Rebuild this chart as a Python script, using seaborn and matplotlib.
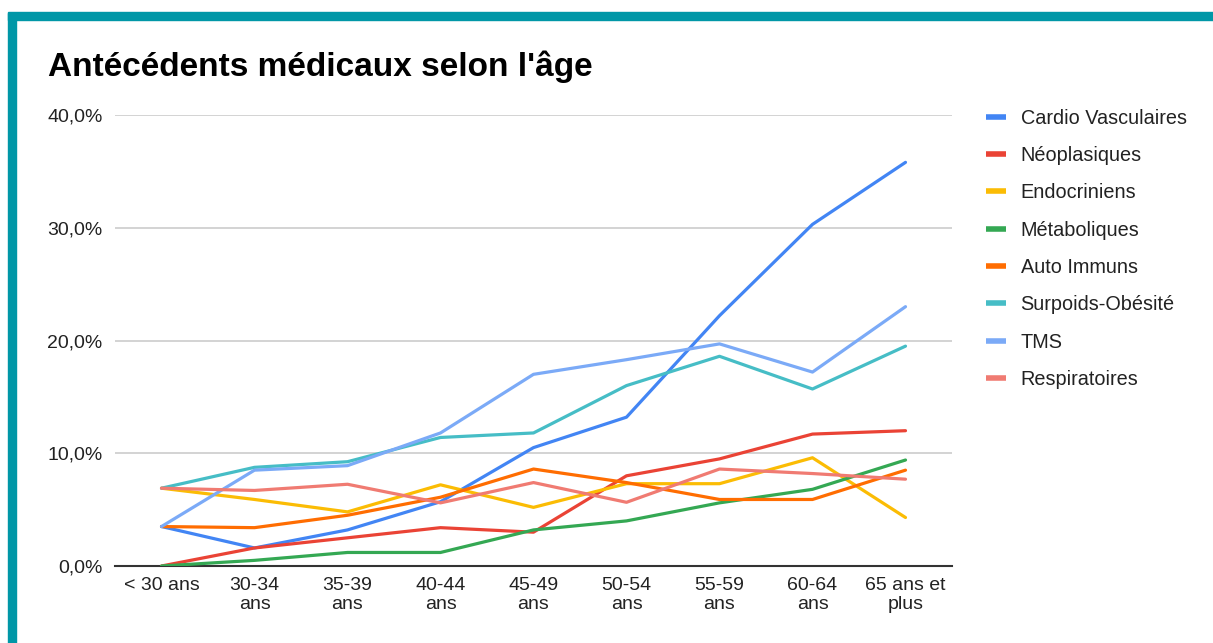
import pandas as pd
import numpy as np
import seaborn as sns
import matplotlib.pyplot as plt
from matplotlib.lines import Line2D
from matplotlib.patches import Rectangle
from matplotlib.ticker import FuncFormatter

# donnees (en %)
ages = ['< 30 ans', '30-34\nans', '35-39\nans', '40-44\nans', '45-49\nans',
        '50-54\nans', '55-59\nans', '60-64\nans', '65 ans et\nplus']

cardio = [3.5, 1.6, 3.2, 5.7, 10.5, 13.2, 22.2, 30.3, 35.8]
neoplasiques = [0.0, 1.6, 2.5, 3.4, 3.0, 8.0, 9.5, 11.7, 12.0]
endocriniens = [6.9, 5.9, 4.8, 7.2, 5.2, 7.3, 7.3, 9.6, 4.3]
metaboliques = [0.0, 0.5, 1.2, 1.2, 3.2, 4.0, 5.6, 6.8, 9.4]
auto_immuns = [3.5, 3.4, 4.5, 6.1, 8.6, 7.4, 5.9, 5.9, 8.5]
surpoids = [6.9, 8.75, 9.25, 11.4, 11.8, 16.0, 18.6, 15.7, 19.5]
tms = [3.5, 8.5, 8.9, 11.8, 17.0, 18.3, 19.7, 17.2, 23.0]
respiratoires = [6.9, 6.7, 7.25, 5.6, 7.4, 5.65, 8.6, 8.2, 7.7]

series_names = ['Cardio Vasculaires', 'Néoplasiques', 'Endocriniens', 'Métaboliques',
                'Auto Immuns', 'Surpoids-Obésité', 'TMS', 'Respiratoires']
series_values = [cardio, neoplasiques, endocriniens, metaboliques,
                 auto_immuns, surpoids, tms, respiratoires]
colors = ['#4285F4', '#EA4335', '#FBBC04', '#34A853',
          '#FF6D01', '#46BDC6', '#7BAAF7', '#F07B72']

# format long pour seaborn
rows = []
for name, vals in zip(series_names, series_values):
    for i, v in enumerate(vals):
        rows.append({'pos': i, 'valeur': v, 'type': name})
df = pd.DataFrame(rows)

sns.set_style('white')
plt.rcParams['font.family'] = ['Liberation Sans', 'DejaVu Sans']

fig = plt.figure(figsize=(12.13, 6.43), dpi=100)
ax = fig.add_axes([115 / 1213, 1 - 566 / 643, (952 - 115) / 1213, (566 - 115) / 643])

# cadre turquoise
fig.patches.append(Rectangle((8 / 1213, 0), 7.5 / 1213, 1 - 13 / 643,
                             transform=fig.transFigure, color='#0097A7', zorder=0))
fig.patches.append(Rectangle((8 / 1213, 1 - 20 / 643), 1, 7.5 / 643,
                             transform=fig.transFigure, color='#0097A7', zorder=0))

sns.lineplot(data=df, x='pos', y='valeur', hue='type', hue_order=series_names,
             palette=colors, linewidth=2.3, ax=ax, legend=False)

ax.set_xlim(-0.5, 8.5)
ax.set_ylim(0, 40)
ax.set_yticks([0, 10, 20, 30, 40])
ax.yaxis.set_major_formatter(FuncFormatter(lambda v, p: f'{v:.1f}%'.replace('.', ',')))
ax.set_xticks(range(len(ages)))
ax.set_xticklabels(ages, linespacing=1.15)
ax.tick_params(axis='both', length=0, labelsize=14, colors='#222222')
ax.tick_params(axis='y', pad=9)
ax.tick_params(axis='x', pad=8)
ax.set_xlabel('')
ax.set_ylabel('')
ax.grid(axis='y', color='#cccccc', linewidth=1.2)
ax.set_axisbelow(True)
for s in ['top', 'right', 'left']:
    ax.spines[s].set_visible(False)
ax.spines['bottom'].set_color('#333333')
ax.spines['bottom'].set_linewidth(1.5)
ax.spines['bottom'].set_zorder(1)

fig.text(48 / 1213, 1 - 67 / 643, "Antécédents médicaux selon l'âge",
         fontsize=24, fontweight='bold', color='#000000', va='center', ha='left')

handles = [Line2D([0], [0], color=c, linewidth=4, solid_capstyle='butt') for c in colors]
leg = fig.legend(handles, series_names, loc='upper left',
                 bbox_to_anchor=(968 / 1213, 1 - 91 / 643), frameon=False,
                 fontsize=14.3, handlelength=1.0, handletextpad=0.75, labelspacing=0.92)
for t in leg.get_texts():
    t.set_color('#222222')

fig.savefig('out.png', dpi=100, facecolor='white')
